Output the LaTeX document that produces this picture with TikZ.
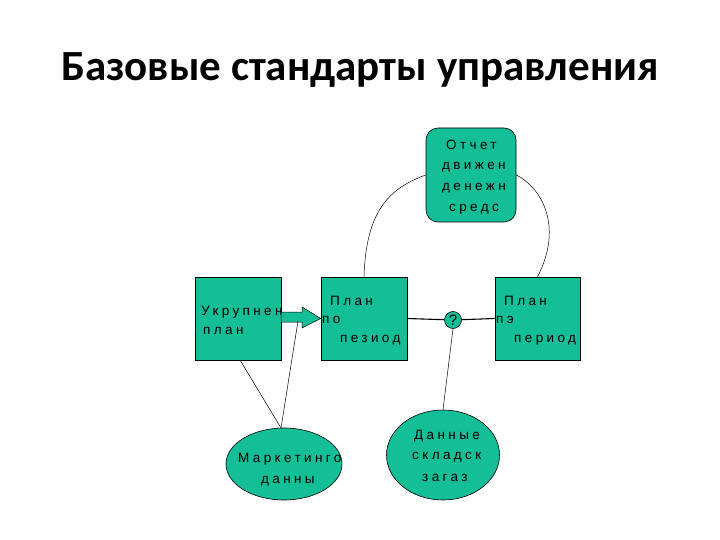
\documentclass[tikz,border=0pt]{standalone}
\usepackage{fontspec}
\usetikzlibrary{shapes.geometric}
\setmainfont{Liberation Sans}
\newfontfamily\titlefont{Carlito}
\newfontfamily\spacedfont[LetterSpace=25]{Liberation Sans}
\definecolor{teal1}{RGB}{20,190,150}
\begin{document}
\begin{tikzpicture}[x=1pt,y=-1pt,
  box/.style={draw,fill=teal1,line width=0.6pt},
  lbl/.style={font=\spacedfont\fontsize{13.5}{17}\selectfont,anchor=west,inner sep=0pt},
  ln/.style={line width=0.5pt}]
\useasboundingbox (0,0) rectangle (720,540);
\node[font=\titlefont\bfseries\fontsize{43}{48}\selectfont] (title) at (360,70) {Базовые стандарты управления};
\node[box,minimum width=86pt,minimum height=83pt] (uk) at (238,318.5) {};
\node[box,minimum width=86pt,minimum height=83pt] (pm) at (364,318.5) {};
\node[box,minimum width=85pt,minimum height=83pt] (pr) at (537.5,318.5) {};
\node[box,rounded corners=12pt,minimum width=90pt,minimum height=94pt] (ot) at (471,175) {};
\node[box,circle,minimum size=17pt,inner sep=0pt,font=\fontsize{15}{15}\selectfont] (q) at (453,320) {?};
\node[box,ellipse,minimum width=116pt,minimum height=72pt,inner sep=0pt] (mk) at (284,464) {};
\node[box,ellipse,minimum width=113pt,minimum height=90pt,inner sep=0pt] (dn) at (443,455) {};
% texts
\node[lbl] (t1) at (201,312) {Укрупнен};
\node[lbl] (t2) at (203,331) {план};
\node[lbl] (t3) at (330,301) {План};
\node[lbl] (t4) at (322,320) {по};
\node[lbl] (t5) at (340,340) {пезиод};
\node[lbl] (t6) at (504,301) {План};
\node[lbl] (t7) at (496,320) {пэ};
\node[lbl] (t8) at (514,340) {период};
\node[lbl] (t9) at (446,145) {Отчет};
\node[lbl] (t10) at (442,167) {движен};
\node[lbl] (t11) at (442,188) {денежн};
\node[lbl] (t12) at (449,209) {средс};
\node[lbl] (t13) at (238,459) {Маркетинго};
\node[lbl] (t14) at (261,481) {данны};
\node[lbl] (t15) at (414,436) {Данные};
\node[lbl] (t16) at (412,457) {складск};
\node[lbl] (t17) at (422,478) {загаз};
% block arrow
\fill[teal1,draw=black,line width=0.5pt] (281,312) -- (302,312) -- (302,307) -- (pm.west) -- (302,328) -- (302,322) -- (281,322) -- cycle;
\coordinate (ah) at (298,321);
% connectors
\draw[line width=1.1pt] (pm.east) -- (q);
\draw[line width=1.1pt] (q) -- (pr.west);
\draw[ln] (q.south) -- (dn.north);
\draw[ln] (pm.north) .. controls (366,210) and (390,188) .. (ot.west);
\draw[ln] (ot.east) .. controls (545,190) and (562,230) .. (pr.north);
\coordinate (us) at (240,360);
\coordinate (mt) at (281,428);
\draw[ln] (us) -- (mt);
\draw[ln] (mt) -- (ah);
\end{tikzpicture}
\end{document}
